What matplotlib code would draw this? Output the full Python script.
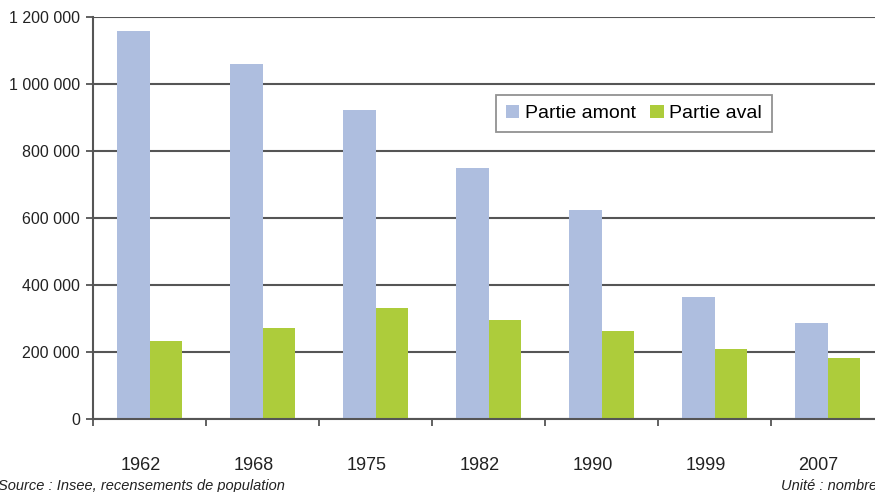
import numpy as np
import matplotlib
matplotlib.use("Agg")
import matplotlib.pyplot as plt
import matplotlib.transforms as mtransforms
from matplotlib.ticker import FuncFormatter

years = ["1962", "1968", "1975", "1982", "1990", "1999", "2007"]
amont = [1158000, 1060000, 921000, 748000, 624000, 364000, 287000]
aval = [233000, 272000, 331000, 296000, 262000, 208000, 181000]

BLUE = "#aebedf"
GREEN = "#adcc3b"
GRID = "#555555"

plt.rcParams["font.family"] = ["Liberation Sans", "DejaVu Sans"]

fig = plt.figure(figsize=(8.75, 4.92), dpi=100)
# axes extends a bit past the right edge, like the original crop
ax = fig.add_axes([93 / 875, (492 - 419) / 492, 791 / 875, 402 / 492])

x = np.arange(len(years))
w = 0.29
ax.bar(x - w / 2, amont, w, color=BLUE, label="Partie amont", zorder=2)
ax.bar(x + w / 2, aval, w, color=GREEN, label="Partie aval", zorder=2)

ax.set_xlim(-0.5, len(years) - 0.5)
ax.set_ylim(0, 1200000)
ax.set_yticks(np.arange(0, 1200001, 200000))
ax.yaxis.set_major_formatter(FuncFormatter(lambda v, p: f"{int(v):,}".replace(",", " ")))
ax.grid(axis="y", color=GRID, lw=1.5, zorder=1)
ax.set_axisbelow(True)

ax.set_xticks(x)
ax.set_xticklabels(years)
ax.set_xticks(np.arange(-0.5, len(years)), minor=True)
ax.tick_params(axis="x", which="major", length=0, pad=27, labelsize=13, colors="#222222")
ax.tick_params(axis="x", which="minor", length=5, width=1.3, color=GRID, direction="out")
ax.tick_params(axis="y", length=5, width=1.3, color=GRID, pad=4.5, labelsize=11.5, labelcolor="#222222")
# year labels sit slightly left of the group centres in the original
shift = mtransforms.ScaledTranslation(-9 / 100, 0, fig.dpi_scale_trans)
for lab in ax.get_xticklabels():
    lab.set_transform(lab.get_transform() + shift)

for s in ["top", "right"]:
    ax.spines[s].set_visible(False)
for s in ["left", "bottom"]:
    ax.spines[s].set_color(GRID)
    ax.spines[s].set_linewidth(1.5)

leg = ax.legend(loc="upper left", bbox_to_anchor=((496 - 93) / 791, (419 - 95) / 402),
                borderaxespad=0, ncol=2, frameon=True, fancybox=False, fontsize=14,
                handlelength=0.7, handleheight=0.7, handletextpad=0.28,
                columnspacing=0.75, borderpad=0.5)
leg.get_frame().set_edgecolor("#777777")
leg.get_frame().set_linewidth(1.3)

small = ["Liberation Sans Narrow", "Liberation Sans", "DejaVu Sans"]
fig.text(-0.002, -0.003, "Source : Insee, recensements de population", family=small,
         style="italic", fontsize=10.5, color="#222222", ha="left", va="bottom")
fig.text(1.003, -0.003, "Unité : nombre", family=small,
         style="italic", fontsize=10.5, color="#222222", ha="right", va="bottom")

fig.savefig("out.png", dpi=100)
